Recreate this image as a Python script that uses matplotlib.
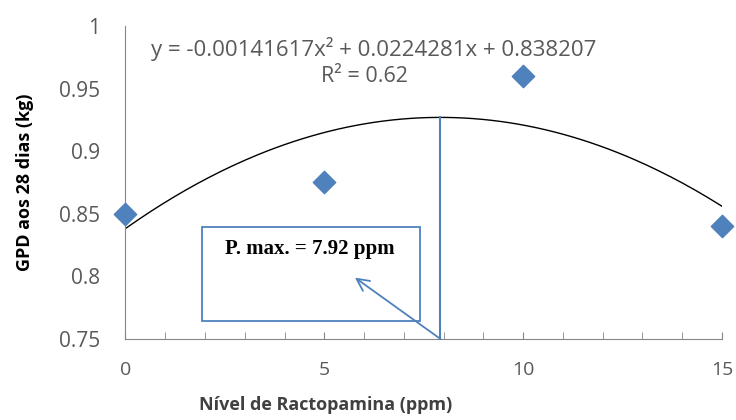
import numpy as np
import matplotlib.pyplot as plt

# data
nivel = [0, 5, 10, 15]
gpd = [0.85, 0.875, 0.96, 0.84]
coef = [-0.00141617, 0.0224281, 0.838207]
r2 = 0.62
x_max = 7.92

xticks = [0, 5, 10, 15]
yticks = [0.75, 0.8, 0.85, 0.9, 0.95, 1]

plt.rcParams['font.family'] = ['Open Sans', 'DejaVu Sans']
gray = '#595959'
blue = '#4F81BD'

fig = plt.figure(figsize=(7.36, 4.2), dpi=100)
ax = fig.add_axes([0.1705, 0.193, 0.8105, 0.745])

# fitted curve
xs = np.linspace(0, 15, 200)
ax.plot(xs, np.polyval(coef, xs), color='black', lw=1)
ax.scatter(nivel, gpd, marker='D', s=130, color=blue, zorder=3, clip_on=False)

# max point line
ymax = np.polyval(coef, x_max)
ax.plot([x_max, x_max], [0.75, ymax], color=blue, lw=1.5)

# annotation box
ax.add_patch(plt.Rectangle((1.92, 0.764), 5.48, 0.0755, fill=False,
                           edgecolor=blue, lw=1.3))
ax.text(4.64, 0.822, 'P. max. = 7.92 ppm', ha='center', va='center',
        fontsize=15, fontweight='bold', family=['Liberation Serif'])
ax.annotate('', xy=(5.77, 0.799), xytext=(x_max, 0.75),
            arrowprops=dict(arrowstyle='->', color=blue, lw=1.3,
                            mutation_scale=22, shrinkA=0, shrinkB=0))

ax.text(6.25, 0.982, 'y = -0.00141617x² + 0.0224281x + 0.838207',
        ha='center', va='center', fontsize=16, color=gray)
ax.text(6.02, 0.960, f'R² = {r2}', ha='center', va='center',
        fontsize=15.5, color=gray)

ax.set_xlim(0, 15)
ax.set_ylim(0.75, 1)
ax.set_xticks(xticks)
ax.set_xticklabels([str(t) for t in xticks])
ax.set_xticks(np.arange(0, 16, 1), minor=True)
ax.set_yticks(yticks)
ax.set_yticklabels(['0.75', '0.8', '0.85', '0.9', '0.95', '1'])
ax.tick_params(axis='x', which='both', direction='in', length=5,
               color='#868686', labelsize=14, labelcolor=gray, pad=16)
ax.tick_params(axis='y', length=0, labelsize=15, labelcolor=gray, pad=18)

for s in ['top', 'right']:
    ax.spines[s].set_visible(False)
for s in ['left', 'bottom']:
    ax.spines[s].set_color('#868686')

fig.text(0.443, 0.035, 'Nível de Ractopamina (ppm)', ha='center', va='center',
         fontsize=13, fontweight='bold', color='#404040')
fig.text(0.034, 0.567, 'GPD aos 28 dias (kg)', ha='center', va='center',
         rotation=90, fontsize=13, fontweight='bold', color='black')

fig.savefig('out.png', dpi=100)
